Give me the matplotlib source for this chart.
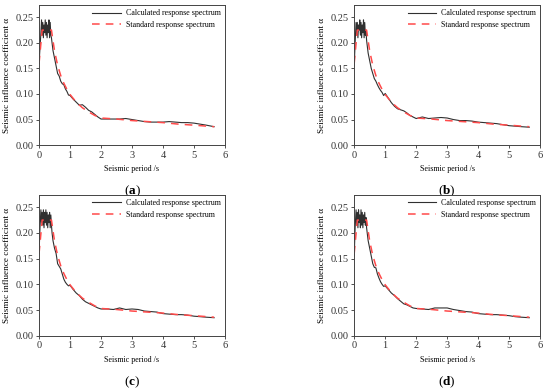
import numpy as np
from matplotlib import pyplot as plt

plt.rcParams['font.family'] = ['Liberation Serif', 'DejaVu Serif']
plt.rcParams['font.size'] = 6
plt.rcParams['mathtext.fontset'] = 'custom'
plt.rcParams['mathtext.rm'] = 'Liberation Serif'
plt.rcParams['mathtext.bf'] = 'Liberation Serif:bold'

# 规范反应谱 (四个子图相同)
t_std = [0, 0.1, 0.4, 0.5, 0.6, 0.7, 0.8, 0.9, 1.0, 1.2, 1.4, 1.6, 1.8, 2.0,
         2.5, 3.0, 3.5, 4.0, 4.5, 5.0, 5.65]
a_std = [0.16, 0.225, 0.225, 0.184, 0.156, 0.136, 0.121, 0.109, 0.099, 0.084,
         0.073, 0.065, 0.058, 0.053, 0.051, 0.048, 0.046, 0.044, 0.041, 0.039, 0.036]

# 计算反应谱 周期
t_calc = [0, 0.03, 0.06, 0.08, 0.1, 0.12, 0.14, 0.16, 0.18, 0.2, 0.22, 0.24, 0.26,
          0.28, 0.3, 0.32, 0.34, 0.36, 0.38, 0.4, 0.42, 0.45, 0.5, 0.55, 0.6, 0.65,
          0.7, 0.75, 0.8, 0.85, 0.9, 0.95, 1.0, 1.1, 1.2, 1.3, 1.4, 1.5, 1.6, 1.7,
          1.8, 1.9, 2.0, 2.2, 2.4, 2.6, 2.8, 3.0, 3.2, 3.4, 3.6, 3.8, 4.0, 4.2, 4.4,
          4.6, 4.8, 5.0, 5.2, 5.4, 5.65]

a_calc_a = [0.16, 0.19, 0.22, 0.245, 0.215, 0.24, 0.21, 0.235, 0.22, 0.245, 0.215,
            0.24, 0.21, 0.235, 0.22, 0.245, 0.21, 0.24, 0.215, 0.21, 0.20, 0.185,
            0.17, 0.155, 0.14, 0.135, 0.125, 0.12, 0.118, 0.11, 0.105, 0.098, 0.097,
            0.09, 0.084, 0.078, 0.079, 0.074, 0.068, 0.065, 0.06, 0.055, 0.051,
            0.051, 0.051, 0.051, 0.052, 0.05, 0.048, 0.046, 0.045, 0.045, 0.045,
            0.046, 0.045, 0.044, 0.044, 0.043, 0.041, 0.039, 0.036]
a_calc_b = [0.155, 0.2, 0.24, 0.215, 0.24, 0.21, 0.235, 0.225, 0.245, 0.215, 0.24,
            0.21, 0.235, 0.22, 0.245, 0.21, 0.24, 0.215, 0.225, 0.205, 0.195, 0.18,
            0.165, 0.15, 0.14, 0.13, 0.125, 0.118, 0.112, 0.107, 0.103, 0.097, 0.101,
            0.092, 0.083, 0.076, 0.071, 0.069, 0.067, 0.063, 0.058, 0.055, 0.052,
            0.055, 0.052, 0.053, 0.054, 0.053, 0.05, 0.048, 0.048, 0.047, 0.045,
            0.044, 0.043, 0.042, 0.04, 0.038, 0.037, 0.036, 0.035]
a_calc_c = [0.16, 0.21, 0.245, 0.22, 0.24, 0.215, 0.245, 0.21, 0.24, 0.22, 0.245,
            0.215, 0.24, 0.21, 0.235, 0.22, 0.24, 0.21, 0.235, 0.215, 0.2, 0.185,
            0.17, 0.16, 0.14, 0.135, 0.13, 0.12, 0.11, 0.104, 0.1, 0.097, 0.098,
            0.09, 0.083, 0.078, 0.071, 0.066, 0.063, 0.06, 0.057, 0.054, 0.052,
            0.052, 0.051, 0.054, 0.051, 0.052, 0.051, 0.048, 0.047, 0.046, 0.043,
            0.042, 0.041, 0.041, 0.04, 0.038, 0.037, 0.036, 0.035]
a_calc_d = [0.155, 0.21, 0.245, 0.215, 0.24, 0.21, 0.245, 0.22, 0.235, 0.21, 0.245,
            0.215, 0.24, 0.21, 0.235, 0.22, 0.24, 0.215, 0.23, 0.21, 0.2, 0.185,
            0.17, 0.155, 0.14, 0.133, 0.132, 0.12, 0.112, 0.105, 0.1, 0.096, 0.097,
            0.09, 0.083, 0.078, 0.072, 0.067, 0.062, 0.06, 0.057, 0.054, 0.053,
            0.052, 0.051, 0.054, 0.054, 0.054, 0.051, 0.049, 0.047, 0.046, 0.043,
            0.042, 0.041, 0.041, 0.04, 0.039, 0.037, 0.036, 0.035]

panels = ['a', 'b', 'c', 'd']
calc_list = [a_calc_a, a_calc_b, a_calc_c, a_calc_d]

# 坐标轴位置 (图像比例)
positions = [[0.071, 0.627, 0.338, 0.360],
             [0.644, 0.627, 0.338, 0.360],
             [0.071, 0.137, 0.338, 0.362],
             [0.644, 0.137, 0.338, 0.362]]

fig = plt.figure(figsize=(5.5, 3.89), dpi=100)

for pos, name, a_calc in zip(positions, panels, calc_list):
    ax = fig.add_axes(pos)
    ax.plot(t_calc, a_calc, color='#303030', lw=0.8, label='Calculated response spectrum')
    ax.plot(t_std, a_std, color='#ff4a4a', lw=1.1, ls=(0, (5, 4)),
            label='Standard response spectrum')
    ax.set_xlim(0, 6)
    ax.set_ylim(0, 0.274)
    ax.set_xticks([0, 1, 2, 3, 4, 5, 6])
    ax.set_yticks([0, 0.05, 0.10, 0.15, 0.20, 0.25])
    ax.set_yticklabels(['0.00', '0.05', '0.10', '0.15', '0.20', '0.25'])
    ax.tick_params(direction='out', length=2, width=0.6, pad=2, colors='#333333',
                   labelsize=7.5)
    for s in ax.spines.values():
        s.set_linewidth(0.7)
        s.set_color('#444444')
    ax.set_xlabel('Seismic period /s', labelpad=4, fontsize=5.8)
    ax.set_ylabel('Seismic influence coefficient α', labelpad=3, fontsize=6.6)
    ax.legend(loc='upper right', frameon=False, fontsize=5.7, handlelength=3.6,
              borderaxespad=0.15, labelspacing=0.45, handletextpad=0.6)
    ax.text(0.5, -0.33, r'($\mathbf{' + name + '}$)', transform=ax.transAxes,
            ha='center', va='center', fontsize=9.5)

fig.savefig('out.png', dpi=100)
